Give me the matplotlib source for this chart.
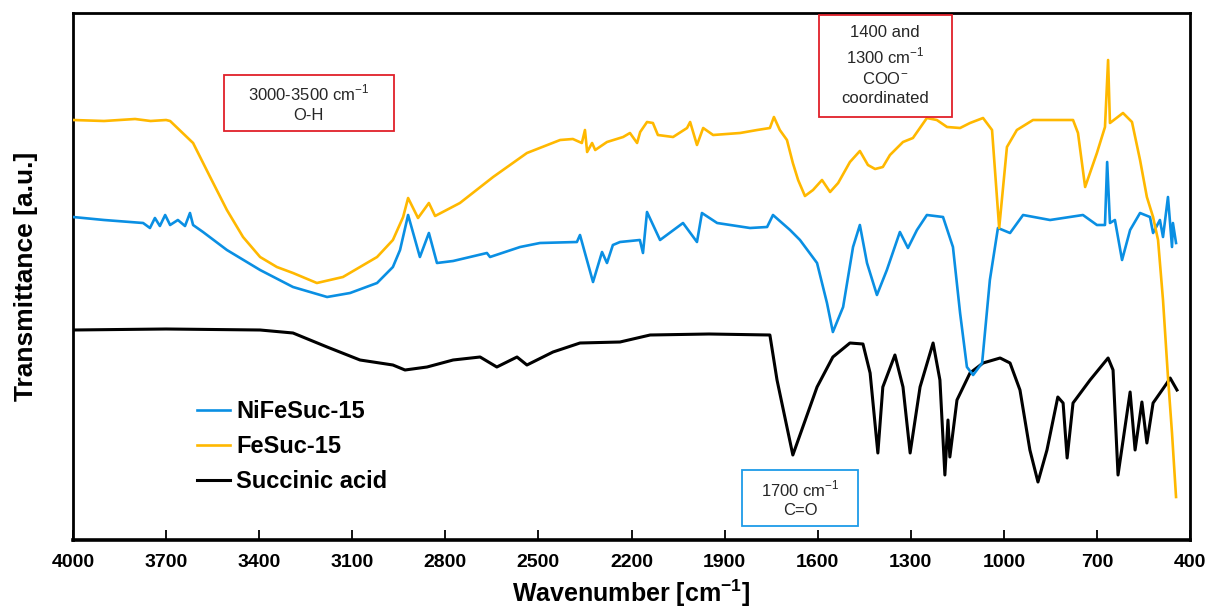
import numpy as np
import matplotlib.pyplot as plt
from matplotlib.patches import Rectangle

plt.rcParams['font.family'] = ['Liberation Sans', 'DejaVu Sans']
plt.rcParams['mathtext.fontset'] = 'custom'
plt.rcParams['mathtext.rm'] = 'Liberation Sans'
plt.rcParams['mathtext.bf'] = 'Liberation Sans:bold'

# FT-IR spectra (wavenumber in cm-1, transmittance in a.u.)
fesuc_wn = [4000, 3900, 3800, 3750, 3700, 3687, 3613, 3558, 3504, 3452, 3397, 3343, 3291, 3214,
            3130, 3075, 3020, 2969, 2936, 2920, 2888, 2853, 2833, 2753, 2646, 2537, 2430,
            2389, 2360, 2350, 2343, 2327, 2317, 2279, 2227, 2205, 2182, 2172, 2150, 2131,
            2115, 2066, 2021, 2011, 1989, 1969, 1937, 1850, 1795, 1754, 1741, 1722, 1699,
            1680, 1663, 1641, 1615, 1586, 1560, 1534, 1496, 1464, 1438, 1415, 1390, 1367,
            1325, 1293, 1248, 1216, 1183, 1141, 1109, 1067, 1038, 1015, 990, 958, 906, 777,
            761, 738, 700, 674, 664, 658, 616, 587, 561, 539, 519, 503, 487, 471, 458, 445]
fesuc_t = [420, 419, 421, 419, 420, 419, 397, 363, 330, 303, 283, 273, 267, 257,
           263, 273, 283, 300, 323, 342, 322, 337, 324, 337, 363, 387, 400,
           401, 397, 410, 388, 397, 390, 398, 403, 407, 397, 408, 418, 417,
           405, 403, 412, 418, 395, 412, 405, 407, 410, 412, 423, 410, 400,
           377, 360, 344, 350, 360, 348, 357, 378, 389, 375, 371, 373, 385,
           398, 402, 422, 420, 413, 412, 417, 422, 410, 312, 393, 410, 420, 420,
           407, 353, 387, 413, 480, 417, 427, 418, 380, 343, 323, 300, 240, 163, 107, 43]

nifesuc_wn = [4000, 3900, 3774, 3752, 3736, 3720, 3703, 3687, 3662, 3639, 3623, 3613, 3581,
              3504, 3397, 3291, 3181, 3107, 3020, 2969, 2946, 2920, 2882, 2853, 2827, 2775,
              2666, 2656, 2559, 2495, 2376, 2366, 2350, 2324, 2295, 2279, 2260, 2237, 2173,
              2163, 2150, 2108, 2034, 1989, 1973, 1924, 1818, 1763, 1744, 1689, 1657, 1602,
              1570, 1551, 1518, 1486, 1464, 1441, 1409, 1377, 1335, 1309, 1280, 1248, 1196,
              1164, 1141, 1119, 1099, 1070, 1045, 1019, 980, 938, 851, 745, 700, 674, 667,
              658, 642, 619, 593, 561, 529, 519, 497, 487, 471, 458, 455, 445]
nifesuc_t = [323, 320, 317, 312, 322, 314, 325, 315, 320, 314, 327, 315, 308,
             290, 270, 253, 243, 247, 257, 273, 290, 325, 283, 307, 277, 279,
             287, 283, 293, 297, 298, 305, 287, 258, 288, 277, 295, 298, 300,
             287, 328, 300, 317, 298, 327, 317, 312, 313, 325, 310, 300, 277,
             237, 208, 233, 293, 315, 277, 245, 270, 308, 292, 310, 325, 323,
             293, 227, 173, 165, 177, 260, 312, 307, 325, 320, 325, 315, 315, 378,
             317, 320, 280, 310, 327, 323, 307, 320, 303, 343, 293, 317, 297]

succinic_wn = [4000, 3700, 3397, 3291, 3181, 3075, 2969, 2930, 2859, 2775, 2688, 2634, 2569,
               2537, 2453, 2366, 2237, 2140, 1950, 1754, 1731, 1680, 1602, 1551, 1496, 1454,
               1431, 1406, 1390, 1351, 1325, 1302, 1270, 1228, 1206, 1190, 1180, 1174, 1151,
               1109, 1067, 1012, 980, 948, 916, 890, 861, 826, 809, 796, 777, 722, 664, 648,
               632, 593, 577, 555, 539, 519, 474, 464, 442]
succinic_t = [210, 211, 210, 207, 193, 180, 175, 170, 173, 180, 183, 173, 183,
              175, 188, 197, 198, 205, 206, 205, 160, 85, 153, 183, 197, 196,
              167, 87, 153, 185, 153, 87, 153, 197, 160, 65, 120, 83, 140,
              167, 177, 182, 177, 150, 90, 58, 90, 143, 137, 82, 137, 160, 182, 170,
              65, 148, 90, 138, 97, 137, 157, 162, 150]

labels = ['NiFeSuc-15', 'FeSuc-15', 'Succinic acid']
colors = ['#0A8FE3', '#FFB800', '#000000']
xticks = np.arange(4000, 399, -300)

fig = plt.figure(figsize=(12.08, 6.12), dpi=100)
ax = fig.add_axes([73 / 1208, 1 - 540 / 612, 1117 / 1208, 527 / 612])

l3, = ax.plot(succinic_wn, succinic_t, color=colors[2], lw=2.2, zorder=2)
l1, = ax.plot(nifesuc_wn, nifesuc_t, color=colors[0], lw=1.9, zorder=3)
l2, = ax.plot(fesuc_wn, fesuc_t, color=colors[1], lw=1.9, zorder=4)

ax.set_xlim(4000, 400)
ax.set_ylim(0, 527)
ax.set_xticks(xticks)
ax.set_xticklabels([str(v) for v in xticks], fontsize=14, fontweight='bold')
ax.set_yticks([])
ax.tick_params(axis='x', direction='in', length=7, width=1.3, pad=10)
for s in ax.spines.values():
    s.set_linewidth(2)
ax.spines['bottom'].set_linewidth(2.6)

ax.set_xlabel(r'Wavenumber [cm$^{\mathbf{-1}}$]', fontsize=18, fontweight='bold', labelpad=5)
ax.set_ylabel('Transmittance [a.u.]', fontsize=19, fontweight='bold', labelpad=25)

ax.legend([l1, l2, l3], labels, loc='upper left', bbox_to_anchor=(0.111, 0.265),
          frameon=False, borderpad=0, borderaxespad=0, handlelength=1.4,
          handletextpad=0.25, labelspacing=0.5,
          prop={'weight': 'bold', 'size': 17})

# annotation boxes (axes fraction)
boxes = [
    ((0.135, 0.776), 0.152, 0.106, '#E0202A', 0.211, 0.829,
     '3000-3500 cm$^{-1}$\nO-H'),
    ((0.668, 0.803), 0.119, 0.193, '#E0202A', 0.727, 0.900,
     '1400 and\n1300 cm$^{-1}$\nCOO$^{-}$\ncoordinated'),
    ((0.599, 0.027), 0.104, 0.106, '#1E9BE8', 0.651, 0.079,
     '1700 cm$^{-1}$\nC=O'),
]
for (x0, y0), w, h, ec, tx, ty, txt in boxes:
    ax.add_patch(Rectangle((x0, y0), w, h, transform=ax.transAxes, fill=False,
                           ec=ec, lw=1.3, zorder=5))
    ax.text(tx, ty, txt, transform=ax.transAxes, ha='center', va='center',
            fontsize=12, color='#262626', linespacing=1.35, zorder=6)

fig.savefig('out.png', dpi=100)
